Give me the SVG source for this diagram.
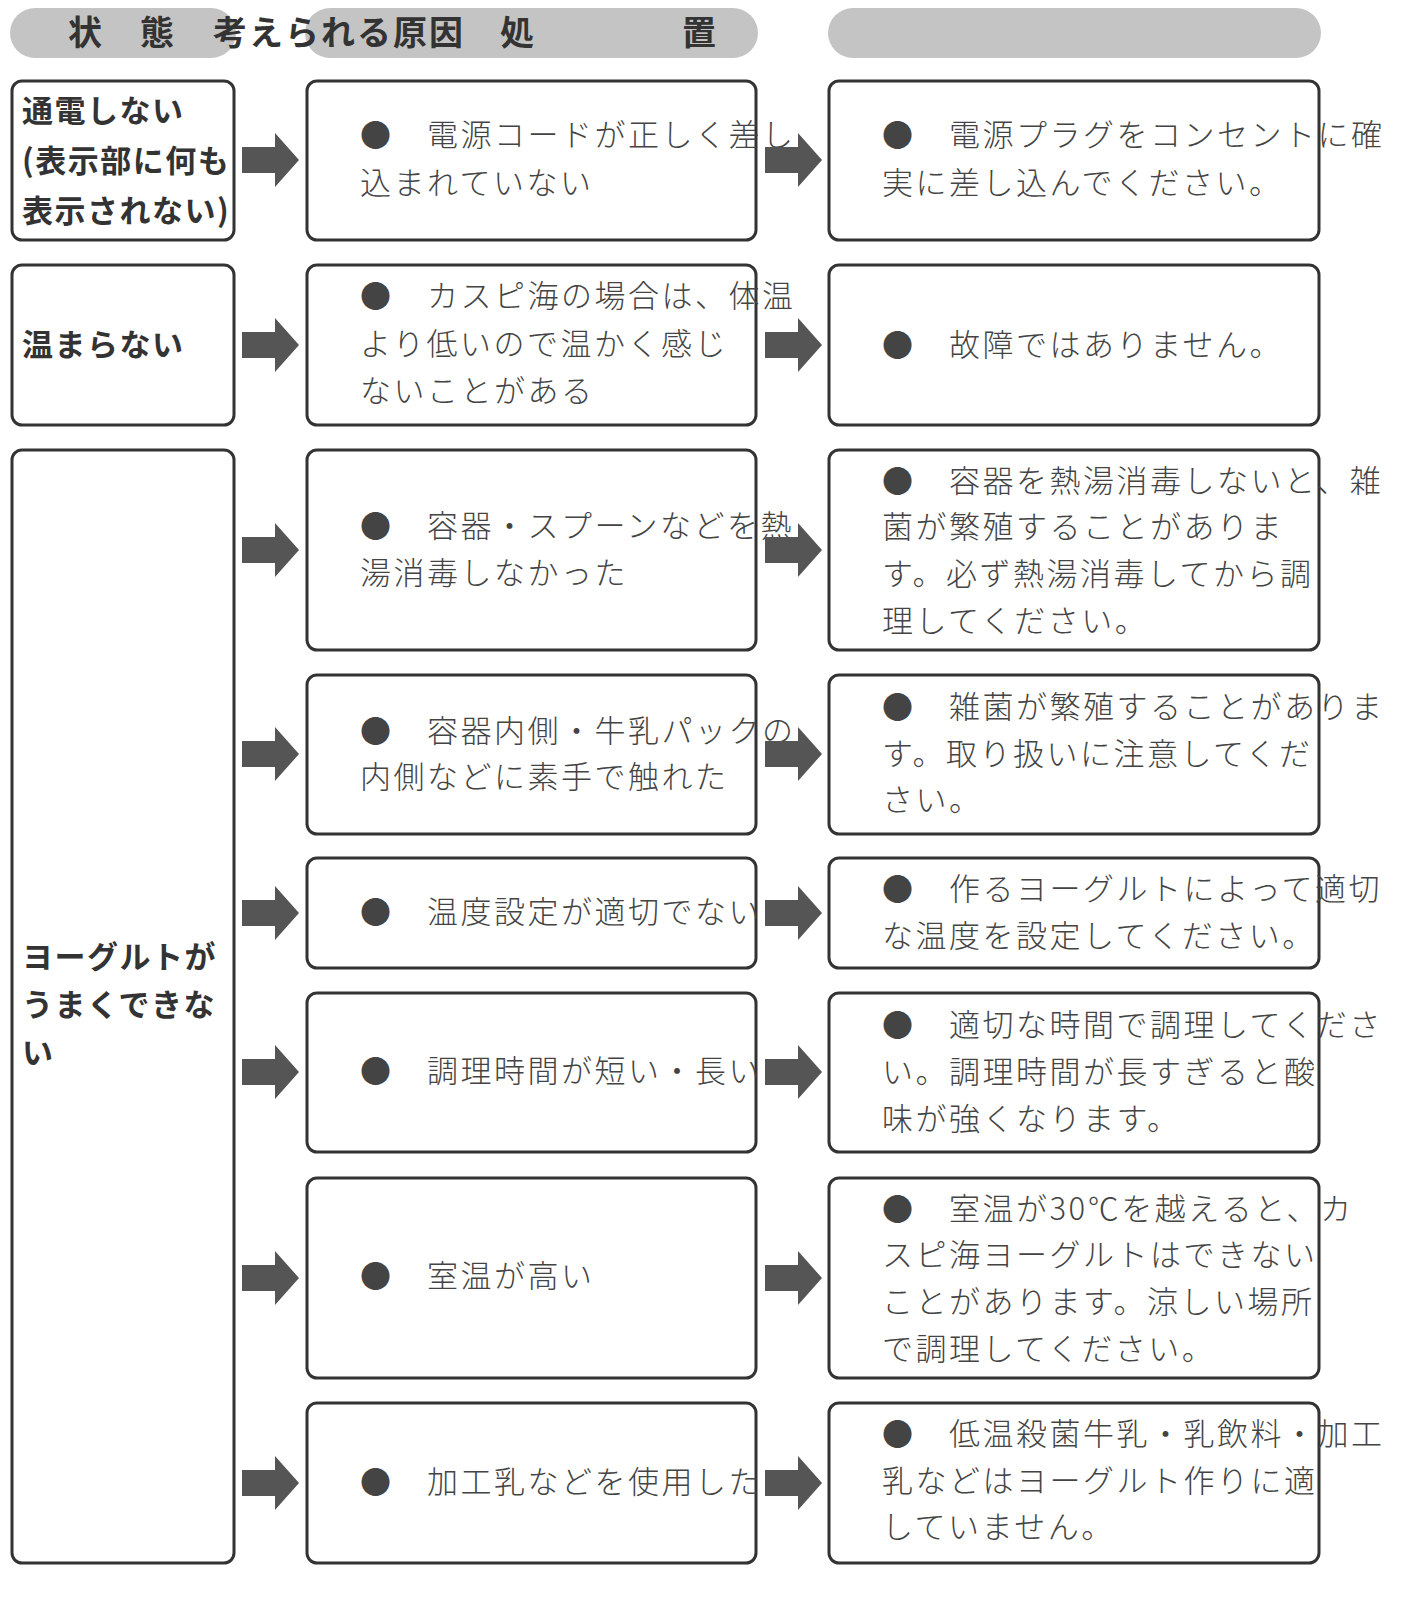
<svg xmlns="http://www.w3.org/2000/svg" width="1415" height="1603" viewBox="0 0 1415 1603">
<style>
.pill{fill:#c4c4c4}
.hd{font-family:"Noto Sans CJK JP",sans-serif;font-size:34px;font-weight:700;fill:#333;letter-spacing:2px}
.box{fill:#fff;stroke:#333;stroke-width:3}
.st{font-family:"Noto Sans CJK JP",sans-serif;font-size:31px;font-weight:700;fill:#333;letter-spacing:1.5px}
.tx{font-family:"Noto Sans CJK JP",sans-serif;font-size:31px;font-weight:300;fill:#444;letter-spacing:2.5px}
.ar{fill:#555}
</style>
<rect width="1415" height="1603" fill="#fff"/>
<g id="header">
<rect class="pill" x="10" y="8" width="226" height="50" rx="25"/>
<rect class="pill" x="305" y="8" width="453" height="50" rx="25"/>
<rect class="pill" x="828" y="8" width="493" height="50" rx="25"/>
<text class="hd" x="68" y="45">状</text><text class="hd" x="140" y="45">態</text>
<text class="hd" x="213" y="45">考えられる原因</text><text class="hd" x="500" y="45">処</text>
<text class="hd" x="682" y="45">置</text>
</g>
<g id="s1"><rect class="box" x="12" y="81" width="222" height="159" rx="10"/>
<text class="st" x="22" y="122">通電しない</text><text class="st" x="22" y="172">(表示部に何も</text><text class="st" x="22" y="222">表示されない)</text></g>
<g id="s2"><rect class="box" x="12" y="265" width="222" height="160" rx="10"/>
<text class="st" x="22" y="356">温まらない</text></g>
<g id="s3"><rect class="box" x="12" y="450" width="222" height="1113" rx="10"/>
<text class="st" x="22" y="968">ヨーグルトが</text><text class="st" x="22" y="1016">うまくできな</text><text class="st" x="22" y="1064">い</text></g>

<g id="c1"><rect class="box" x="307" y="81" width="449" height="159" rx="10"/>
<text class="tx" x="360" y="146">●　電源コードが正しく差し</text><text class="tx" x="360" y="194">込まれていない</text></g>
<g id="c2"><rect class="box" x="307" y="265" width="449" height="160" rx="10"/>
<text class="tx" x="360" y="307">●　カスピ海の場合は、体温</text><text class="tx" x="360" y="355">より低いので温かく感じ</text><text class="tx" x="360" y="402">ないことがある</text></g>
<g id="c3"><rect class="box" x="307" y="450" width="449" height="200" rx="10"/>
<text class="tx" x="360" y="537">●　容器・スプーンなどを熱</text><text class="tx" x="360" y="584">湯消毒しなかった</text></g>
<g id="c4"><rect class="box" x="307" y="675" width="449" height="159" rx="10"/>
<text class="tx" x="360" y="742">●　容器内側・牛乳パックの</text><text class="tx" x="360" y="788">内側などに素手で触れた</text></g>
<g id="c5"><rect class="box" x="307" y="858" width="449" height="110" rx="10"/>
<text class="tx" x="360" y="923">●　温度設定が適切でない</text></g>
<g id="c6"><rect class="box" x="307" y="993" width="449" height="159" rx="10"/>
<text class="tx" x="360" y="1082">●　調理時間が短い・長い</text></g>
<g id="c7"><rect class="box" x="307" y="1178" width="449" height="200" rx="10"/>
<text class="tx" x="360" y="1287">●　室温が高い</text></g>
<g id="c8"><rect class="box" x="307" y="1403" width="449" height="160" rx="10"/>
<text class="tx" x="360" y="1493">●　加工乳などを使用した</text></g>

<g id="r1"><rect class="box" x="829" y="81" width="490" height="159" rx="10"/>
<text class="tx" x="882" y="146">●　電源プラグをコンセントに確</text><text class="tx" x="882" y="194">実に差し込んでください。</text></g>
<g id="r2"><rect class="box" x="829" y="265" width="490" height="160" rx="10"/>
<text class="tx" x="882" y="356">●　故障ではありません。</text></g>
<g id="r3"><rect class="box" x="829" y="450" width="490" height="200" rx="10"/>
<text class="tx" x="882" y="492">●　容器を熱湯消毒しないと、雑</text><text class="tx" x="882" y="538">菌が繁殖することがありま</text><text class="tx" x="882" y="585">す。必ず熱湯消毒してから調</text><text class="tx" x="882" y="632">理してください。</text></g>
<g id="r4"><rect class="box" x="829" y="675" width="490" height="159" rx="10"/>
<text class="tx" x="882" y="718">●　雑菌が繁殖することがありま</text><text class="tx" x="882" y="765">す。取り扱いに注意してくだ</text><text class="tx" x="882" y="811">さい。</text></g>
<g id="r5"><rect class="box" x="829" y="858" width="490" height="110" rx="10"/>
<text class="tx" x="882" y="900">●　作るヨーグルトによって適切</text><text class="tx" x="882" y="947">な温度を設定してください。</text></g>
<g id="r6"><rect class="box" x="829" y="993" width="490" height="159" rx="10"/>
<text class="tx" x="882" y="1036">●　適切な時間で調理してくださ</text><text class="tx" x="882" y="1083">い。調理時間が長すぎると酸</text><text class="tx" x="882" y="1130">味が強くなります。</text></g>
<g id="r7"><rect class="box" x="829" y="1178" width="490" height="200" rx="10"/>
<text class="tx" x="882" y="1220">●　室温が30℃を越えると、カ</text><text class="tx" x="882" y="1266">スピ海ヨーグルトはできない</text><text class="tx" x="882" y="1313">ことがあります。涼しい場所</text><text class="tx" x="882" y="1360">で調理してください。</text></g>
<g id="r8"><rect class="box" x="829" y="1403" width="490" height="160" rx="10"/>
<text class="tx" x="882" y="1445">●　低温殺菌牛乳・乳飲料・加工</text><text class="tx" x="882" y="1492">乳などはヨーグルト作りに適</text><text class="tx" x="882" y="1538">していません。</text></g>

<defs><path id="arw" class="ar" d="M0,-13 H33 V-27 L57,0 L33,27 V13 H0 Z"/></defs>
<g id="connectors">
<use href="#arw" x="242" y="160"/><use href="#arw" x="765" y="160"/>
<use href="#arw" x="242" y="345"/><use href="#arw" x="765" y="345"/>
<use href="#arw" x="242" y="550"/><use href="#arw" x="765" y="550"/>
<use href="#arw" x="242" y="754"/><use href="#arw" x="765" y="754"/>
<use href="#arw" x="242" y="913"/><use href="#arw" x="765" y="913"/>
<use href="#arw" x="242" y="1072"/><use href="#arw" x="765" y="1072"/>
<use href="#arw" x="242" y="1278"/><use href="#arw" x="765" y="1278"/>
<use href="#arw" x="242" y="1483"/><use href="#arw" x="765" y="1483"/>
</g>
</svg>
